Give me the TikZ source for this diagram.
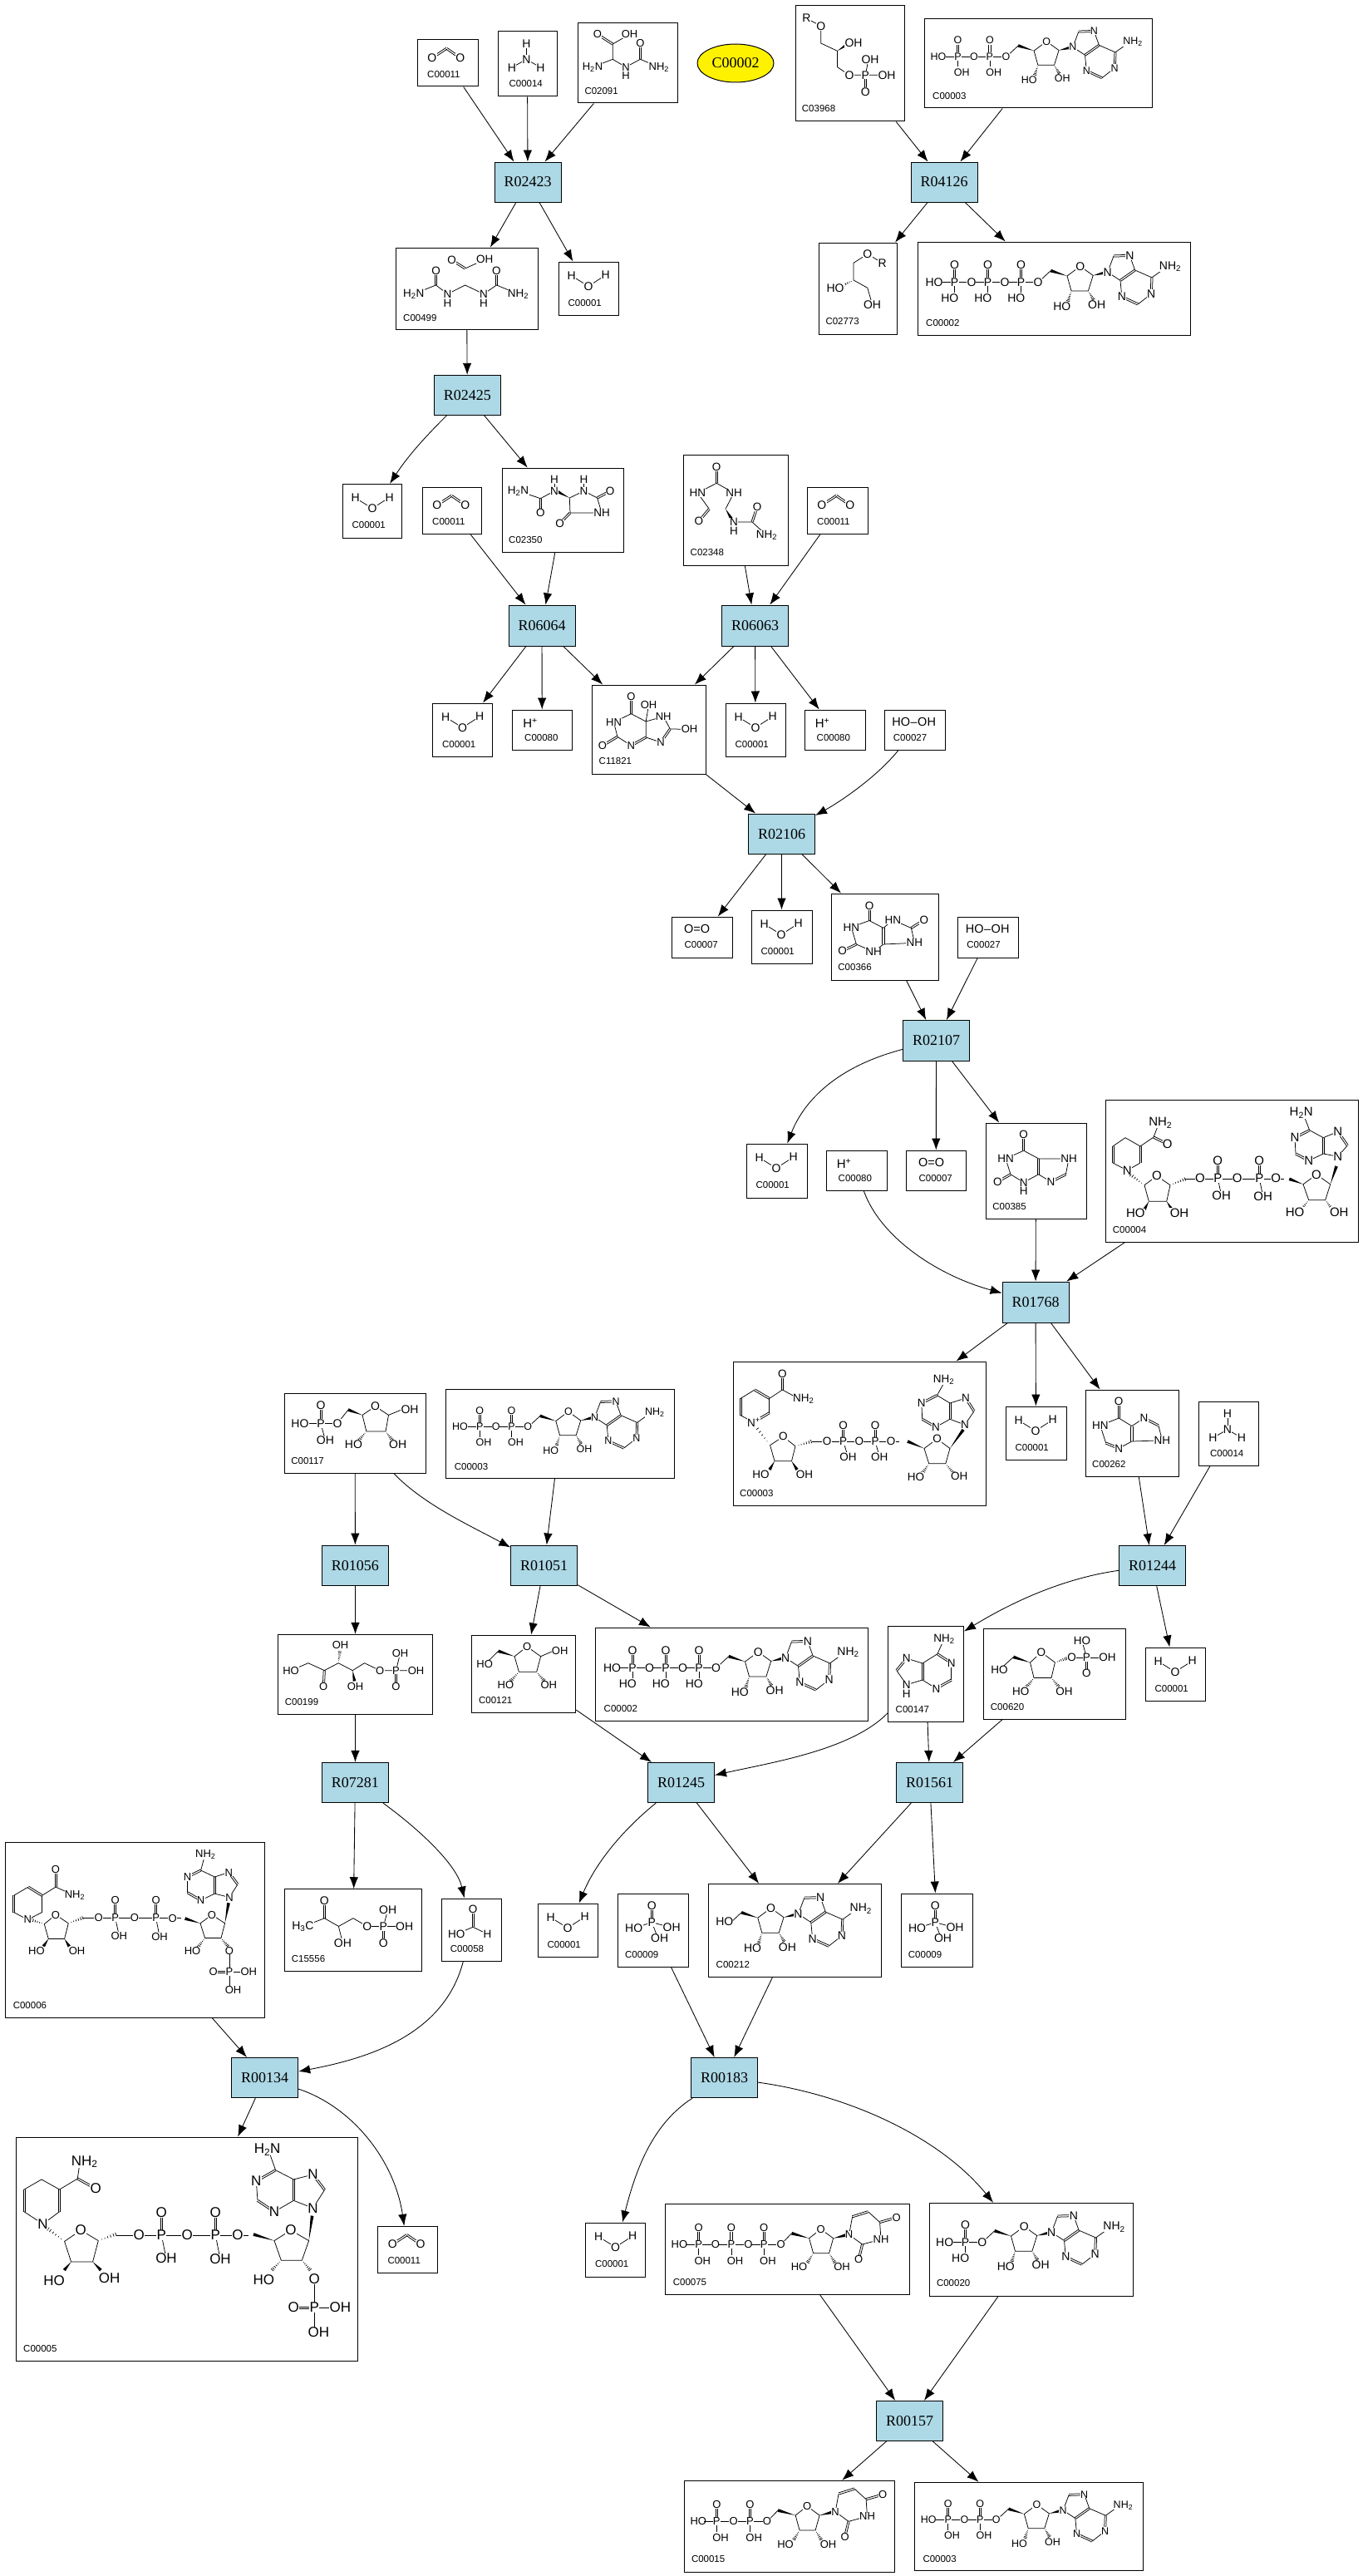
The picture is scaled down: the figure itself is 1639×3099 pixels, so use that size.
\documentclass[tikz,border=0pt]{standalone}
\usepackage{fontspec}
\setmainfont{Liberation Serif}
\newfontfamily\sansf{Liberation Sans}
\usetikzlibrary{arrows.meta,calc,shapes.geometric}
\newcounter{atomno}
\def\afsize{14}
\tikzset{
  cpdbox/.style={draw=black,line width=1pt,fill=white,inner sep=0pt},
  rbox/.style={draw=black,line width=.95pt,fill=rxblue,inner sep=0pt,font=\fontsize{18}{18}\selectfont},
  edge/.style={draw=black,line width=.85pt,-{Latex[length=14pt,width=10.5pt]}},
  bond/.style={draw=black,line width=.75pt},
  hashl/.style={draw=black,line width=.7pt},
  atomlab/.style={fill=white,inner sep=.3pt,text=black,font=\sansf\fontsize{\afsize}{\afsize}\selectfont},
  cplab/.style={anchor=west,inner sep=0pt,text=black,font=\sansf\fontsize{11.5}{11.5}\selectfont},
}
\definecolor{rxblue}{HTML}{ADD8E6}
\newcommand\Af[1]{\def\afsize{#1}}
\newcommand\At[2]{\stepcounter{atomno}\node[atomlab] (atom\theatomno) at (#1) {#2};}
\newcommand\Lb[2]{\stepcounter{atomno}\node[cplab] (atom\theatomno) at (#1) {#2};}
\newcommand\Bn[1]{\draw[bond] #1;}
\def\DbX(#1)--(#2)\relax{\draw[bond] ($(#1)!1.1pt!90:(#2)$) -- ($(#2)!1.1pt!-90:(#1)$);\draw[bond] ($(#1)!1.1pt!-90:(#2)$) -- ($(#2)!1.1pt!90:(#1)$);}
\newcommand\Db[1]{\DbX#1\relax}
\newcommand\Wg[2]{\fill[black] (#1) -- ($(#2)!1.9pt!90:(#1)$) -- ($(#2)!1.9pt!-90:(#1)$) -- cycle;}
\newcommand\Hs[2]{\foreach \hsT in {.2,.36,.52,.68,.84,.97}{\draw[hashl] ($(#1)!\hsT!(#2)!\hsT*2.2pt!90:(#2)$) -- ($(#1)!\hsT!(#2)!\hsT*2.2pt!-90:(#2)$);}}
\newcommand\Rib[5]{\draw[bond] (#1)--(#2)--(#3)--(#4)--(#5)--cycle; \At{#2}{O}}
\newcommand\Purine[9]{\Bn{(#1)--(#2)}\Db{(#2)--(#3)}\Bn{(#3)--(#4)}\Db{(#4)--(#5)}\Bn{(#5)--(#1)}\Bn{(#5)--(#6)}\Db{(#6)--(#7)}\Bn{(#7)--(#8)}\Db{(#8)--(#9)}\Bn{(#9)--(#4)}\At{#1}{N}\At{#3}{N}\At{#6}{N}\At{#8}{N}}
% phosphate unit at origin; #1 offset of lower label, #2 its text
\newcommand\PU[2]{\Bn{(-15,0)--(15,0)}\Db{(0,0)--(0,-15)}\Bn{(0,0)--(0,13)}\At{0,-20.3}{O}\At{0,0}{P}\At{#1,19.6}{#2}\At{20.4,0}{O}}
\newcommand\PP[4]{\Db{(#1)--(#2)}\Bn{(#1)--(#3)}\At{#2}{O}\At{#1}{P}\At{#3}{#4}}
\newcommand\Adn{%
  \Bn{(5,-4)--(15.3,-13.6)}\Wg{35,-7.2}{15.3,-13.6}
  \Rib{35,-7.2}{50.7,-18.9}{66.2,-7.8}{60.4,10.8}{40,10.8}
  \Hs{40,10.8}{36,23.3}\Hs{60.4,10.8}{66.7,21.4}
  \At{28.8,29.6}{HO}\At{70.6,27.8}{OH}
  \Wg{66.2,-7.8}{80.5,-11.2}
  \Bn{(137,-5.3)--(152,-16)}
  \Purine{83.7,-11.8}{91,-31.2}{110.3,-31.8}{116.6,-14.2}{99,-1.8}{100.8,17.8}{120.3,26.8}{136.2,14.3}{137,-5.3}
  \At{159,-18.2}{NH\textsubscript{2}}}
\newcommand\Urd{%
  \Bn{(4,-4)--(13,-13.3)}\Wg{34,-7.3}{13,-13.3}
  \Rib{34,-7.3}{48,-18.3}{63,-7.3}{58,10.7}{39,10.7}
  \Hs{39,10.7}{32,22}\Hs{58,10.7}{65,22}
  \At{22,27.4}{HO}\At{73.5,27.4}{OH}
  \Wg{63,-7.3}{78,-11}
  \Bn{(82,-11.6)--(86,-33.3)}\Db{(86,-33.3)--(105,-39.3)}\Bn{(105,-39.3)--(119,-26.6)--(120.4,-6)}\Db{(119,-26.6)--(139,-32.3)}
  \Bn{(120.4,-6)--(98,0)--(82,-11.6)}\Db{(98,0)--(93.5,18.4)}
  \At{82,-11.6}{N}\At{139,-32.3}{O}\At{120.4,-6}{NH}\At{93.5,18.4}{O}}
\newcommand\MATP{\Af{14}\begin{scope}[shift={(44.6,48.2)}]\At{-24.6,0}{HO}\PU{-5.8}{HO}
  \begin{scope}[shift={(40,0)}]\PU{-5.8}{HO}\end{scope}
  \begin{scope}[shift={(80,0)}]\PU{-5.8}{HO}\end{scope}
  \begin{scope}[shift={(100.4,0)}]\Adn\end{scope}\end{scope}\Lb{10,98}{C00002}}
\newcommand\MADP{\Af{12.5}\begin{scope}[shift={(40.5,45)},scale=.96]\At{-24.6,0}{HO}\PU{5}{OH}
  \begin{scope}[shift={(40,0)}]\PU{5}{OH}\end{scope}
  \begin{scope}[shift={(60.4,0)}]\Adn\end{scope}\end{scope}\Lb{10,92.7}{C00003}}
\newcommand\MWat{\Af{14}\Bn{(15.7,16.8)--(36,29.3)--(56.7,16)}\At{15.7,16.8}{H}\At{36,29.3}{O}\At{56.7,16}{H}\Lb{11.4,49.6}{C00001}}
\newcommand\MCO{\Af{14}\Db{(17.9,21.7)--(35.3,10.3)}\Db{(35.3,10.3)--(51.8,21.7)}\At{17.9,21.7}{O}\At{51.8,21.7}{O}\Lb{12,41.7}{C00011}}
\newcommand\MAmm{\Af{14}\Bn{(34.4,14.5)--(34.4,33.3)}\Bn{(17,43.2)--(34.4,33.3)--(51.3,43.2)}\At{34.4,14.5}{H}\At{34.4,33.3}{N}\At{17,43.2}{H}\At{51.3,43.2}{H}\Lb{13.4,62.4}{C00014}}
\newcommand\MHp{\Af{15}\At{21.5,15.7}{H\textsuperscript{+}}\Lb{14.5,33.7}{C00080}}
\newcommand\MOO{\Af{14.5}\At{30.7,14.6}{O=O}\Lb{15.4,34}{C00007}}
\newcommand\MHOOH{\Af{14.5}\At{35.7,14.6}{HO{\kern.5pt}–{\kern.5pt}OH}\Lb{10.7,34}{C00027}}
\newcommand\MPi{\Af{14}\Db{(40.7,34.6)--(40.7,15)}\Bn{(19,41.8)--(40.7,34.6)--(64.5,41)}\Bn{(40.7,34.6)--(48,54)}\At{40.7,15}{O}\At{40.7,34.6}{P}\At{19,41.8}{HO}\At{64.5,41}{OH}\At{50,54}{OH}\Lb{8.2,74}{C00009}}
% ---- NAD family
\newcommand\MNAD{\Af{13.5}
 \Bn{(25,73)--(9,64.7)}\Db{(9,64.7)--(9,44.4)}\Bn{(9,44.4)--(26,34)}\Db{(26,34)--(43.8,44.4)}\Bn{(43.8,44.4)--(43.8,61.6)}\Db{(43.8,61.6)--(25,73)}
 \Bn{(43.8,44.4)--(59.4,34)--(78,44)}\Db{(59.4,34)--(59.4,14.5)}
 \Hs{44.6,100.6}{26.5,77}
 \At{25,73}{N\textsuperscript{+}}\At{59.4,14.5}{O}\At{84.8,45}{NH\textsubscript{2}}
 \Rib{44.6,100.6}{60.3,90.3}{75,101.8}{70.5,119.8}{50,119.8}
 \Wg{50,119.8}{44,130}\Wg{70.5,119.8}{77,130}\At{33.5,135.9}{HO}\At{86,135.9}{OH}
 \Hs{75,101.8}{94.6,96}\Bn{(94.6,96)--(200,96)}
 \PP{132.6,96}{132.6,77}{138.4,114.4}{OH}\PP{171,96}{171,77}{176.3,114.4}{OH}
 \At{113,96}{O}\At{151.8,96}{O}\At{190,96}{O}
 \Wg{230,104.5}{210,96}
 \Rib{230,104.5}{245.5,93}{261,104.5}{255.8,122.8}{235.7,122.8}
 \Hs{235.7,122.8}{228,134}\Hs{255.8,122.8}{265,134}\At{220,138.5}{HO}\At{272.3,137.8}{OH}
 \Wg{261,104.5}{277,82}
 \Bn{(245.5,40.6)--(253.6,26)}
 \Purine{279,76}{290,59.7}{280,44}{261,50}{261,69.3}{244,78.8}{227.7,69.3}{226.8,50}{245.5,40.6}
 \At{253.6,22}{NH\textsubscript{2}}\Lb{8,158.4}{C00003}}
\newcommand\MNADH{\Af{15}
 \Bn{(26.3,85)--(9,76)}\Db{(9,76)--(9,56)}\Bn{(9,56)--(24,45.7)--(42,56)}\Db{(42,56)--(42,76)}\Bn{(42,76)--(26.3,85)}
 \Bn{(42,56)--(58,45)--(63,32)}\Db{(58,45)--(74.7,53.3)}
 \Hs{47,102.7}{30,90}
 \At{26.3,85}{N}\At{66.3,27.7}{NH\textsubscript{2}}\At{74.7,53.3}{O}
 \Rib{47,102.7}{62,91.7}{78,102.7}{73.7,122.3}{52.3,122.3}
 \Wg{52.3,122.3}{47,132}\Wg{73.7,122.3}{80,132}\At{36.3,136.7}{HO}\At{89,136}{OH}
 \Hs{78,102.7}{96.3,95.3}\Bn{(96.3,95)--(215,95)}
 \PP{135.3,94.7}{135.3,73.3}{139.7,115.7}{OH}\PP{185.3,94.7}{185.3,73.3}{189.7,116.7}{OH}
 \At{114,94.7}{O}\At{158.7,94.7}{O}\At{205.3,94.7}{O}
 \Wg{238,101.7}{221.3,95.3}
 \Rib{238,101.7}{254,90}{270.7,101.7}{264.7,120.7}{244.7,120.7}
 \Hs{244.7,120.7}{236,132}\Hs{264.7,120.7}{273,132}\At{228,135}{HO}\At{281.3,135}{OH}
 \Wg{270.7,101.7}{278,80}
 \Bn{(245.7,36.7)--(240,22)}
 \Purine{279.7,68.3}{291.3,55}{279.7,38.3}{262.3,45.7}{262.3,65}{244.7,73.3}{229,65}{228,45.7}{245.7,36.7}
 \At{235.7,16}{H\textsubscript{2}N}\Lb{8.7,157}{C00004}}
\newcommand\MNADP{\Af{13}
 \Bn{(27,92.9)--(10.3,84)}\Db{(10.3,84)--(10.3,63.8)}\Bn{(10.3,63.8)--(27.7,53.6)}\Db{(27.7,53.6)--(44.3,63.8)}\Bn{(44.3,63.8)--(44.3,84)--(27,92.9)}
 \Bn{(44.3,63.8)--(60.7,53.6)--(75,60)}\Db{(60.7,53.6)--(60.7,32.6)}
 \Hs{47,98.2}{31,93}
 \At{27,92.9}{N}\At{60.7,32.6}{O}\At{83.7,63.8}{NH\textsubscript{2}}
 \Rib{47,98.2}{60.7,87}{76,97.3}{71.3,116}{52,116}
 \Wg{52,116}{46,125}\Wg{71.3,116}{77,125}\At{37.7,130.8}{HO}\At{86.3,130}{OH}
 \Hs{76,97.3}{93.7,90.6}\Bn{(93.7,90.6)--(212,90.6)}
 \PP{132.3,90.6}{132.3,69.6}{137,112}{OH}\PP{181.3,90.6}{181.3,69.6}{185.7,113}{OH}
 \At{112.3,90.6}{O}\At{155.7,90.6}{O}\At{201.3,91}{O}
 \Wg{234.7,97.3}{216.3,91.5}
 \Rib{234.7,97.3}{248.7,87}{264.3,97.3}{259.7,115}{240.3,115}
 \Hs{240.3,115}{232,126}\At{225.3,130}{HO}
 \Wg{264.3,97.3}{268.7,72.8}
 \Bn{(235.3,33.5)--(239,20)}
 \Purine{269.7,66}{279.7,50.4}{269,36}{252,41.5}{252,61.6}{235.3,69.6}{219.3,60.3}{219.3,41.5}{235.3,33.5}
 \At{241,14.7}{NH\textsubscript{2}}
 \Hs{259.7,115}{268,125}
 \Bn{(269.7,130)--(269.7,177)}\Db{(250.3,155.8)--(269.7,155.8)}\Bn{(269.7,155.8)--(293,155.8)}
 \At{269.7,130}{O}\At{269.7,155.8}{P}\At{250.3,155.8}{O}\At{293,155.8}{OH}\At{274.3,177.7}{OH}
 \Lb{9.3,196.4}{C00006}}
\newcommand\MNADPH{\Af{17}
 \Bn{(32.3,104.5)--(9.7,89.7)}\Db{(9.7,89.7)--(9.7,63)}\Bn{(9.7,63)--(30.7,50.9)--(52.3,63)}\Db{(52.3,63)--(52.3,89.7)}\Bn{(52.3,89.7)--(32.3,104.5)}
 \Bn{(52.3,63)--(74,50)--(76,36)}\Db{(74,50)--(96,62)}
 \Hs{58.3,125.4}{38,110}
 \At{32.3,104.5}{N}\At{82.3,29.5}{NH\textsubscript{2}}\At{96,62}{O}
 \Rib{58.3,125.4}{78,112}{99,124.6}{92.3,150}{66.3,150}
 \Wg{66.3,150}{58,160}\Wg{92.3,150}{102,160}\At{45.7,172.3}{HO}\At{112.3,170}{OH}
 \Hs{99,124.6}{120.7,116.5}\Bn{(120.7,117.9)--(280,117.9)}
 \PP{175,117.9}{175,90.2}{180.7,146}{OH}\PP{240,117.9}{240,90.2}{245.7,147}{OH}
 \At{148,117.9}{O}\At{206,117.9}{O}\At{266.7,117.9}{O}
 \Wg{310.7,124.6}{285.7,117}
 \Rib{310.7,124.6}{330.7,112}{352.3,124.6}{344,148.2}{319,148.2}
 \Hs{319,148.2}{308,160}\At{298,171.4}{HO}
 \Wg{352.3,124.6}{356.3,94.6}
 \Bn{(312.3,39.7)--(306,22)}
 \Purine{357.3,85.3}{371.3,63.4}{357.3,45}{334,50.9}{334,76.3}{310.7,89.7}{290.7,76.3}{289,53}{312.3,39.7}
 \At{302.3,15}{H\textsubscript{2}N}
 \Hs{344,148.2}{354,160}
 \Bn{(359,170.5)--(359,235)}\Db{(334,205)--(359,205)}\Bn{(359,205)--(390,205)}
 \At{359,170.5}{O}\At{359,205}{P}\At{334,205}{O}\At{390,205}{OH}\At{364,234.8}{OH}
 \Lb{8.7,255}{C00005}}
\newcommand\cpd[6]{\pgfmathsetmacro\cW{#4-#2}\pgfmathsetmacro\cH{#5-#3}\pgfmathsetmacro\cX{(#2+#4)/2}\pgfmathsetmacro\cY{(#3+#5)/2}%
 \node[cpdbox,minimum width=\cW pt,minimum height=\cH pt] (#1) at (\cX,\cY) {};%
 \begin{scope}[shift={(#2,#3)}]#6\end{scope}}
\newcommand\rxn[5]{\pgfmathsetmacro\cW{#4-#2}\pgfmathsetmacro\cH{#5-#3}\pgfmathsetmacro\cX{(#2+#4)/2}\pgfmathsetmacro\cY{(#3+#5)/2}%
 \node[rbox,minimum width=\cW pt,minimum height=\cH pt] (#1) at (\cX,\cY) {#1};}
\newcommand\edg[2]{\draw[edge] (#1) -- (#2);}
\begin{document}
\begin{tikzpicture}[x=1pt,y=-1pt]
\path[fill=white,use as bounding box] (0,0) rectangle (1639,3099);
% reactions
\rxn{R02423}{595}{195}{675}{243}
\rxn{R04126}{1096}{195}{1176}{243}
\rxn{R02425}{522.3}{451.3}{602.3}{499.3}
\rxn{R06064}{612}{728}{692}{777}
\rxn{R06063}{868.5}{728}{948.5}{777}
\rxn{R02106}{900.5}{979}{980.5}{1027.5}
\rxn{R02107}{1086.5}{1227.5}{1166.5}{1276}
\rxn{R01768}{1206}{1542}{1286}{1591}
\rxn{R01244}{1346.5}{1859.5}{1426.5}{1907.7}
\rxn{R01056}{387.4}{1859}{467.4}{1907.5}
\rxn{R01051}{614.7}{1859}{694.7}{1907.5}
\rxn{R07281}{387.4}{2120.4}{467.4}{2168.6}
\rxn{R01245}{779.5}{2120.4}{859.5}{2168.6}
\rxn{R01561}{1078.7}{2120.4}{1158.7}{2168.6}
\rxn{R00134}{278.3}{2475.4}{358.7}{2523.7}
\rxn{R00183}{831.5}{2475.4}{911.5}{2523.6}
\rxn{R00157}{1054.4}{2888.3}{1134.7}{2936.3}
\node[draw=black,line width=1pt,fill=yellow,ellipse,minimum width=92pt,minimum height=46pt,inner sep=0pt,font=\fontsize{18}{18}\selectfont] (C00002key) at (885,76) {C00002};
% compounds
\cpd{a011}{502}{48}{575}{104}{\MCO}
\cpd{a014}{599}{38}{670}{116}{\MAmm}
\cpd{a2091}{695}{28}{815}{124}{\Af{13}
 \Db{(42.2,25)--(24,13.3)}\Bn{(62.6,13.3)--(42.2,25)--(42.2,43.3)--(18,52.7)}\Bn{(42.2,43.3)--(58,52.7)--(75.4,43.3)--(97.8,52.7)}\Db{(75.4,43.3)--(75.4,24.3)}
 \At{24,13.3}{O}\At{62.6,13.3}{OH}\At{18,52.7}{H\textsubscript{2}N}\At{58,52.7}{N}\At{58,63.3}{H}\At{75.4,24.3}{O}\At{97.8,52.7}{NH\textsubscript{2}}\Lb{8.3,81.7}{C02091}}
\cpd{a3968}{957}{7}{1088}{146}{\Af{14}
 \Bn{(13.4,15)--(30.7,24.3)--(30.7,45)--(50.5,54.3)--(50.5,73.7)--(65,83.3)--(110,83.3)}\Wg{50.5,54.3}{63,46}\Bn{(84.3,83.3)--(88,64.3)}\Db{(84.3,83.3)--(84.3,103.3)}
 \At{13.4,15}{R}\At{30.7,24.3}{O}\At{70,44.3}{OH}\At{65,83.3}{O}\At{84.3,83.3}{P}\At{90,64.3}{OH}\At{110,83.3}{OH}\At{84.3,103.3}{O}\Lb{7.7,123.7}{C03968}}
\cpd{a003t}{1112}{23}{1386}{130}{\MADP}
\cpd{a499}{476}{298}{647}{396}{\Af{13.5}
 \Db{(67.7,15)--(83.7,25)}\Bn{(83.7,25)--(107.3,14.3)}
 \Bn{(21.7,55.7)--(48.5,45)--(62.6,55.7)--(83.7,45)--(106,55.7)--(121.4,45)--(147.6,55.7)}\Db{(48.5,45)--(48.5,27.7)}\Db{(121.4,45)--(121.4,27.7)}
 \At{67.7,15}{O}\At{107.3,14.3}{OH}\At{21.7,55.7}{H\textsubscript{2}N}\At{48.5,27.7}{O}\At{62.6,55.7}{N}\At{62.6,66.7}{H}\At{106,55.7}{N}\At{106,66.7}{H}\At{121.4,27.7}{O}\At{147.6,55.7}{NH\textsubscript{2}}\Lb{9,85}{C00499}}
\cpd{a001a}{672}{315}{744}{379}{\MWat}
\cpd{a2773}{985}{292}{1079}{402}{\Af{14}
 \Bn{(58.8,13.7)--(76.7,24.3)}\Bn{(58.8,13.7)--(42,24.3)--(42,45)--(58.8,54.3)--(64.5,74.3)}\Hs{42,45}{28,52}
 \At{58.8,13.7}{O}\At{76.7,24.3}{R}\At{20,54.3}{HO}\At{64.5,74.3}{OH}\Lb{8.3,95}{C02773}}
\cpd{a002t}{1104}{291}{1432}{403}{\MATP}
\cpd{a001b}{412}{582.3}{483}{647}{\MWat}
\cpd{a011b}{508}{586}{579}{642}{\MCO}
\cpd{a2350}{604}{563}{750}{664}{\Af{13.5}
 \Bn{(19.6,27.7)--(46.4,36.7)--(63,27.7)}\Db{(46.4,36.7)--(46.4,54)}\Wg{81.3,36}{66,28}\Bn{(63,27.7)--(63,14)}
 \Bn{(81.3,36)--(98.6,27.7)--(114.6,36)--(120,54)--(82,54)--(81.3,36)}\Bn{(98.6,27.7)--(98.6,14)}\Db{(114.6,36)--(130.2,27.7)}\Db{(82,54)--(69.6,66.7)}
 \At{19.6,27.7}{H\textsubscript{2}N}\At{46.4,54}{O}\At{63,27.7}{N}\At{63,14}{H}\At{98.6,27.7}{N}\At{98.6,14}{H}\At{130.2,27.7}{O}\At{120,54}{NH}\At{69.6,66.7}{O}\Lb{8,86.7}{C02350}}
\cpd{a2348}{822}{547}{948}{680}{\Af{13.5}
 \Db{(40.2,15)--(40.2,34.3)}\Bn{(17.4,46)--(40.2,34.3)--(61,46)--(51,65.3)}\Bn{(17.4,46)--(31.3,65.3)}\Db{(31.3,65.3)--(18.8,80.3)}\Wg{51,65.3}{58,77}
 \Bn{(61,81)--(83,81)--(100.5,97)}\Db{(83,81)--(89,63.3)}
 \At{40.2,15}{O}\At{17.4,46}{HN}\At{61,46}{NH}\At{18.8,80.3}{O}\At{61,81}{N}\At{61,91.7}{H}\At{89,63.3}{O}\At{100.5,97}{NH\textsubscript{2}}\Lb{8.5,117.7}{C02348}}
\cpd{a011c}{971}{586}{1044}{642}{\MCO}
\cpd{a001c}{520.5}{846}{592}{910}{\MWat}
\cpd{a080a}{616.5}{854}{688}{902}{\MHp}
\cpd{a11821}{712.5}{824}{849}{931}{\Af{13}
 \Db{(46.9,14)--(46.9,34.7)}\Bn{(46.9,34.7)--(26,44.7)--(30.4,62.3)--(46.9,73)}\Db{(30.4,62.3)--(12.5,73)}\Db{(46.9,73)--(64.7,63)}\Bn{(64.7,63)--(64.7,44)--(46.9,34.7)}
 \Bn{(64.7,44)--(68,24)}\Bn{(64.7,44)--(85.7,38)--(93.8,53)--(117,53.3)}\Db{(93.8,53)--(82.6,69)}\Bn{(82.6,69)--(64.7,63)}
 \At{46.9,14}{O}\At{26,44.7}{HN}\At{12.5,73}{O}\At{46.9,73}{N}\At{68,24}{OH}\At{85.7,38}{NH}\At{117,53.3}{OH}\At{82.6,69}{N}\Lb{8,91.7}{C11821}}
\cpd{a001d}{873}{846}{945}{910}{\MWat}
\cpd{a080b}{968}{854}{1041}{902}{\MHp}
\cpd{a027a}{1064}{854}{1137}{902}{\MHOOH}
\cpd{a007a}{808}{1103}{881}{1152}{\MOO}
\cpd{a001e}{904}{1095}{977}{1159}{\MWat}
\cpd{a366}{1000}{1075}{1129}{1179}{\Af{13.5}
 \Db{(46,14.6)--(46,32.5)}\Bn{(46,32.5)--(24.3,40.4)--(30.4,61)--(51.1,70)--(62.9,61)}\Db{(30.4,61)--(13.6,69)}\Db{(62.9,61)--(62.9,41.4)}\Bn{(62.9,41.4)--(46,32.5)}
 \Bn{(62.9,41.4)--(74.3,31.8)--(96.4,41.4)--(100.4,59.3)--(62.9,61)}\Db{(96.4,41.4)--(111.8,31.8)}
 \At{46,14.6}{O}\At{24.3,40.4}{HN}\At{13.6,69}{O}\At{51.1,70}{NH}\At{74.3,31.8}{HN}\At{111.8,31.8}{O}\At{100.4,59.3}{NH}\Lb{8.2,88.6}{C00366}}
\cpd{a027b}{1152.5}{1103}{1225}{1152}{\MHOOH}
\cpd{a001f}{898}{1376}{971}{1441}{\MWat}
\cpd{a080c}{994}{1384}{1067}{1432.5}{\MHp}
\cpd{a007b}{1090}{1384}{1162.5}{1432.5}{\MOO}
\cpd{a385}{1186}{1351}{1307}{1466}{\Af{13.5}
 \Db{(45.7,14.3)--(45.7,33.2)}\Bn{(45.7,33.2)--(24,42.9)--(30,61.8)--(45.7,71.4)--(63.6,61.8)}\Db{(30,61.8)--(14.3,70.7)}\Db{(63.6,61.8)--(63.6,42.9)}\Bn{(63.6,42.9)--(45.7,33.2)}
 \Bn{(63.6,42.9)--(100,42.9)--(96.4,61.8)}\Db{(96.4,61.8)--(78.6,70.7)}\Bn{(78.6,70.7)--(63.6,61.8)}
 \At{45.7,14.3}{O}\At{24,42.9}{HN}\At{14.3,70.7}{O}\At{45.7,71.4}{N}\At{45.7,82}{H}\At{100,42.9}{NH}\At{78.6,70.7}{N}\Lb{8.2,100.4}{C00385}}
\cpd{a004}{1330}{1323}{1634}{1494}{\MNADH}
\cpd{a003n}{882}{1638}{1186}{1811}{\MNAD}
\cpd{a001g}{1210}{1692}{1283}{1756.5}{\MWat}
\cpd{a262}{1306}{1672}{1418.5}{1776}{\Af{13.5}
 \Db{(40.2,14.2)--(40.2,34)}\Bn{(40.2,34)--(17.9,42.9)--(24.6,64)}\Db{(24.6,64)--(40.2,70.4)}\Bn{(40.2,70.4)--(55.8,62)}\Db{(55.8,62)--(55.8,43.6)}\Bn{(55.8,43.6)--(40.2,34)}
 \Bn{(55.8,43.6)--(70.5,34)}\Db{(70.5,34)--(87.9,42.9)}\Bn{(87.9,42.9)--(92.4,60.8)--(55.8,62)}
 \At{40.2,14.2}{O}\At{17.9,42.9}{HN}\At{40.2,70.4}{N}\At{70.5,34}{N}\At{92.4,60.8}{NH}\Lb{8,89.6}{C00262}}
\cpd{a014b}{1442.5}{1686.5}{1514.5}{1763}{\MAmm}
\cpd{a117}{342}{1676.4}{512.4}{1772.5}{\Af{14}
 \Db{(44,36)--(44,14.6)}\Bn{(18.9,36)--(64,36)--(77,19.6)}\Bn{(44,36)--(49.4,56.4)}\Wg{94,26}{77,19.6}
 \Rib{94,26}{109.6,15.4}{125.5,26}{122,45.7}{98.9,45.7}
 \Bn{(125.5,26)--(140,20)}\Hs{98.9,45.7}{90,56}\Hs{122,45.7}{130,56}
 \At{44,14.6}{O}\At{44,36}{P}\At{18.9,36}{HO}\At{49.4,56.4}{OH}\At{64,36}{O}\At{151,19.6}{OH}\At{83.4,61}{HO}\At{136.7,61}{OH}\Lb{8.2,81.4}{C00117}}
\cpd{a003m}{536.7}{1671.4}{811.5}{1778}{\MADP}
\cpd{a199}{334.5}{1966.4}{520.7}{2062.5}{\Af{13}
 \Bn{(15.5,43.2)--(36.4,34.3)--(55.8,43.2)--(72.7,34.3)--(89.7,43.2)--(104,34.3)--(122.7,43.2)--(166,43.2)}\Db{(55.8,43.2)--(54.8,62.9)}\Hs{72.7,34.3}{74.5,20}\Wg{89.7,43.2}{92,56}\Bn{(142,43.2)--(147,22.9)}\Db{(142,43.2)--(142,62.9)}
 \At{15.5,43.2}{HO}\At{54.8,62.9}{O}\At{75,12.9}{OH}\At{93,62.9}{OH}\At{122.7,43.2}{O}\At{142,43.2}{P}\At{147,22.9}{OH}\At{166,43.2}{OH}\At{142,62.9}{O}\Lb{8.2,81.4}{C00199}}
\cpd{a121}{567.7}{1967}{692.8}{2060}{\Af{13}
 \Bn{(15.5,35.4)--(32,19.3)}\Wg{51.4,25.7}{32,19.3}
 \Rib{51.4,25.7}{66.4,13.9}{82.9,25.7}{78,44.3}{56.7,44.3}
 \Bn{(82.9,25.7)--(96,20)}\Hs{56.7,44.3}{47,55}\Hs{78,44.3}{87,55}
 \At{15.5,35.4}{HO}\At{106,19.3}{OH}\At{40.7,60.4}{HO}\At{92.6,60.4}{OH}\Lb{8.2,79}{C00121}}
\cpd{a002m}{716.5}{1958}{1044.7}{2070.7}{\MATP}
\cpd{a147}{1068.5}{1956}{1159.5}{2071.5}{\Af{13.5}
 \Bn{(59.4,33.7)--(67.4,16)}
 \Db{(59.4,33.7)--(76.3,44.8)}\Bn{(76.3,44.8)--(76.3,65)}\Db{(76.3,65)--(58,75.4)}\Bn{(58,75.4)--(41.5,65)}\Db{(41.5,65)--(41.5,45)}\Bn{(41.5,45)--(59.4,33.7)}
 \Bn{(41.5,45)--(22.3,39)}\Db{(22.3,39)--(10.3,53.6)}\Bn{(10.3,53.6)--(22.3,70.8)--(41.5,65)}
 \At{67.4,16}{NH\textsubscript{2}}\At{76.3,44.8}{N}\At{58,75.4}{N}\At{22.3,39}{N}\At{22.3,70.8}{N}\At{22.3,82.3}{H}\Lb{9,100.6}{C00147}}
\cpd{a620}{1183.7}{1959}{1354.6}{2068.4}{\Af{13.5}
 \Bn{(18.8,49.8)--(35.7,34.4)}\Wg{55.8,41}{35.7,34.4}
 \Rib{55.8,41}{69.2,28.7}{85.7,41}{81.3,59.4}{60.3,59.4}
 \Hs{85.7,41}{100,36}\Hs{60.3,59.4}{52,70}\Hs{81.3,59.4}{90,70}
 \Bn{(105.8,35.2)--(148.7,35.2)}\Bn{(123.7,35.2)--(118.3,15)}\Db{(123.7,35.2)--(123.7,54.3)}
 \At{18.8,49.8}{HO}\At{44.6,75.4}{HO}\At{96.9,75.4}{OH}\At{105.8,35.2}{O}\At{123.7,35.2}{P}\At{118.3,15}{HO}\At{148.7,35.2}{OH}\At{123.7,54.3}{O}\Lb{8,94.5}{C00620}}
\cpd{a001h}{1378}{1982}{1450.6}{2046.6}{\MWat}
\cpd{a15556}{342.7}{2272.7}{507.3}{2371}{\Af{14}
 \Bn{(21.7,45)--(47.7,35)--(64.7,44.7)--(82.3,35)--(99,44.7)--(144,44.7)}\Db{(47.7,35)--(47.7,14)}\Bn{(64.7,44.7)--(69.7,64.7)}\Bn{(118.7,44.7)--(124,24.7)}\Db{(118.7,44.7)--(118.7,64.7)}
 \At{47.7,14}{O}\At{21.7,45}{H\textsubscript{3}C}\At{69.7,64.7}{OH}\At{99,44.7}{O}\At{118.7,44.7}{P}\At{124,24.7}{OH}\At{144,44.7}{OH}\At{118.7,64.7}{O}\Lb{8,84.3}{C15556}}
\cpd{a058}{531.3}{2284}{603.3}{2359.3}{\Af{13.5}
 \Db{(37.7,13.3)--(37.7,34.3)}\Bn{(18,42.7)--(37.7,34.3)--(55.3,42.7)}
 \At{37.7,13.3}{O}\At{18,42.7}{HO}\At{55.3,42.7}{H}\Lb{10.3,61}{C00058}}
\cpd{a006}{6.3}{2216.5}{318.7}{2427}{\MNADP}
\cpd{a005}{19.3}{2571}{430.7}{2840.6}{\MNADPH}
\cpd{a011d}{454.3}{2678.3}{526.7}{2734.3}{\MCO}
\cpd{a001i}{647}{2290}{719.5}{2354.6}{\MWat}
\cpd{a009a}{743.7}{2278}{828.6}{2366.4}{\MPi}
\cpd{a212}{852.3}{2266.4}{1060.7}{2378.2}{\Af{14}
 \begin{scope}[shift={(24.5,48)}]\At{-5,-2.3}{HO}\Adn\end{scope}\Lb{9.2,97.5}{C00212}}
\cpd{a009b}{1084.5}{2278}{1170.8}{2366.4}{\MPi}
\cpd{a001j}{704.5}{2674}{776.7}{2739}{\MWat}
\cpd{a075}{800.6}{2651.7}{1094.7}{2760.3}{\Af{13}
 \begin{scope}[shift={(40,48.3)}]\At{-23.2,0}{HO}\PU{4.7}{OH}\begin{scope}[shift={(39.3,0)}]\PU{4.7}{OH}\end{scope}\begin{scope}[shift={(78.6,0)}]\PU{4.7}{OH}\end{scope}\end{scope}
 \begin{scope}[shift={(139,48.3)}]\Urd\end{scope}\Lb{9,94.3}{C00075}}
\cpd{a020}{1118.5}{2650.3}{1363.6}{2762.3}{\Af{14}
 \begin{scope}[shift={(43,47)}]\At{-24.8,0}{HO}\PU{-5.8}{HO}\begin{scope}[shift={(20,0)}]\Adn\end{scope}\end{scope}\Lb{8.3,96.7}{C00020}}
\cpd{a015}{823.5}{2984.3}{1076.6}{3094.3}{\Af{13}
 \begin{scope}[shift={(38.8,49)}]\At{-22,0}{HO}\PU{4.7}{OH}\begin{scope}[shift={(40.2,0)}]\PU{4.7}{OH}\end{scope}\end{scope}
 \begin{scope}[shift={(99.6,49)}]\Urd\end{scope}\Lb{8.3,94.7}{C00015}}
\cpd{a003b}{1100.3}{2986.3}{1375.5}{3092.3}{\MADP}
% connectors
\edg{a011}{R02423}\edg{a014}{R02423}\edg{a2091}{R02423}
\edg{a3968}{R04126}\edg{a003t}{R04126}
\edg{R02423}{a499}\edg{R02423}{a001a}
\edg{R04126}{a2773}\edg{R04126}{a002t}
\edg{a499}{R02425}
\draw[edge] (R02425) .. controls (505,532) and (488,553) .. (a001b);
\edg{R02425}{a2350}
\edg{a011b}{R06064}\edg{a2350}{R06064}
\edg{a2348}{R06063}\edg{a011c}{R06063}
\edg{R06064}{a001c}\edg{R06064}{a080a}\edg{R06064}{a11821}
\edg{R06063}{a11821}\edg{R06063}{a001d}\edg{R06063}{a080b}
\edg{a11821}{R02106}
\draw[edge] (a027a) .. controls (1055,935) and (1010,965) .. (R02106);
\edg{R02106}{a007a}\edg{R02106}{a001e}\edg{R02106}{a366}
\edg{a366}{R02107}\edg{a027b}{R02107}
\draw[edge] (R02107) .. controls (1000,1285) and (965,1330) .. (a001f);
\edg{R02107}{a007b}\edg{R02107}{a385}
\draw[edge] (a080c) .. controls (1060,1490) and (1130,1535) .. (R01768);
\edg{a385}{R01768}\edg{a004}{R01768}
\edg{R01768}{a003n}\edg{R01768}{a001g}\edg{R01768}{a262}
\edg{a262}{R01244}\edg{a014b}{R01244}
\draw[edge] (R01244) .. controls (1270,1900) and (1205,1935) .. ([yshift=-7pt]a147.north east);
\edg{R01244}{a001h}
\edg{a117}{R01056}
\draw[edge] (a117) .. controls (510,1810) and (565,1835) .. (R01051);
\edg{a003m}{R01051}
\edg{R01056}{a199}\edg{a199}{R07281}
\edg{R01051}{a121}\edg{R01051}{a002m}
\edg{a121}{R01245}
\draw[edge] (a147) .. controls (1025,2105) and (930,2120) .. (R01245);
\edg{a147}{R01561}\edg{a620}{R01561}
\edg{R07281}{a15556}
\draw[edge] (R07281) .. controls (510,2205) and (550,2245) .. (a058);
\draw[edge] (a058) .. controls (535,2445) and (450,2475) .. (R00134);
\edg{a006}{R00134}\edg{R00134}{a005}
\draw[edge] (R00134) .. controls (425,2535) and (475,2600) .. (a011d);
\draw[edge] (R01245) .. controls (745,2205) and (715,2245) .. (a001i);
\edg{R01245}{a212}\edg{R01561}{a212}\edg{R01561}{a009b}
\edg{a009a}{R00183}\edg{a212}{R00183}
\draw[edge] (R00183) .. controls (785,2555) and (765,2610) .. (a001j);
\draw[edge] (R00183) .. controls (1020,2520) and (1130,2570) .. (a020);
\edg{a075}{R00157}\edg{a020}{R00157}
\edg{R00157}{a015}\edg{R00157}{a003b}
\end{tikzpicture}
\end{document}
